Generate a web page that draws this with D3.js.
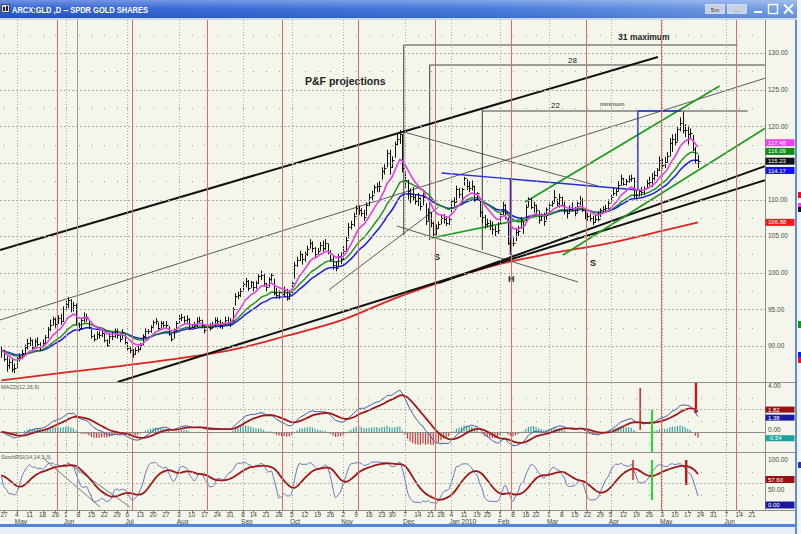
<!DOCTYPE html>
<html><head><meta charset="utf-8">
<script src="https://cdn.jsdelivr.net/npm/d3@7/dist/d3.min.js"></script>
<style>
html,body{margin:0;padding:0;background:#ffffff;overflow:hidden}
svg{display:block}
</style></head>
<body>
<svg id="chart" width="801" height="534"></svg>
<script>
// ================= DATA =================
const title = "ARCX:GLD ,D -- SPDR GOLD SHARES";
const startDate = "2009-04-24";
const axisStart = "2009-04-27", axisEnd = "2010-06-21", calendarEnd = "2010-06-30";
const holidays = ["2009-05-25","2009-07-03","2009-09-07","2009-11-26","2009-12-25","2010-01-01","2010-01-18","2010-02-15","2010-04-02","2010-05-31"];

// daily bars, one row per week
const highs = [
89.9,
89.5,88.6,88.3,88.2,87.6, 88.6,89.0,89.5,90.2,91.0, 91.2,90.9,91.0,91.2,90.5, 90.9,91.5,92.6,93.6,94.0,
93.9,94.2,94.4,95.4, 96.2,96.7,96.4,96.0,95.8, 93.2,93.8,94.6,94.4,93.6, 92.4,91.6,92.0,92.0,92.2,
91.7,90.9,91.7,91.9,92.4, 92.3,91.7,92.3,91.6, 90.5,89.9,89.6,89.8,90.0, 90.4,91.6,92.4,92.3,92.8,
93.5,93.8,93.2,93.4,93.4, 93.4,92.7,91.6,92.4,93.4, 94.2,94.4,94.1,94.2,93.8, 92.9,93.3,93.9,94.0,93.6,
92.8,93.1,93.1,93.3,93.9, 93.9,93.6,93.3,94.0,94.0, 93.8,95.3,97.2,97.4,97.9, 98.7,99.3,99.0,98.9,
98.8,98.9,99.8,100.3,99.8, 98.6,99.4,99.9,99.2,97.9, 97.6,97.6,98.1,97.8,97.5, 98.9,101.5,102.2,103.0,102.6,
102.9,103.7,104.6,104.3,103.5, 103.4,104.2,104.4,104.6,104.0, 103.1,102.3,101.6,102.6,102.8, 103.6,104.9,106.8,107.1,108.2,
109.2,109.2,108.8,108.6,109.6, 110.8,111.2,112.0,112.3,112.5, 114.4,114.8,116.8,116.8, 115.9,117.9,119.0,119.5,118.9,
113.8,112.7,111.5,111.7,110.7, 110.9,110.3,110.9,109.5,108.8, 108.3,107.0,106.6,107.0, 108.0,108.0,107.7,107.5,
110.0,110.3,111.9,111.6,111.6, 113.1,112.8,112.5,112.6,111.9, 111.0,110.1,108.5,107.9, 107.3,107.2,107.0,106.4,106.9,
108.2,109.7,109.4,107.6,104.5, 104.8,106.1,106.4,107.6,107.0, 109.3,110.3,110.2,109.7, 109.3,108.5,108.1,108.2,108.9,
109.6,109.9,111.3,110.1,110.8, 110.4,109.7,108.6,109.2,109.6, 109.0,109.7,110.5,110.2,108.8, 108.2,108.1,107.8,107.9,108.4,
108.8,109.1,109.3,110.0, 110.6,111.6,111.5,112.5,113.4, 112.9,112.8,113.3,113.4,113.0, 111.3,111.4,111.7,111.8,112.7,
113.1,113.6,113.9,114.3,115.9, 115.6,115.8,116.5,118.4,118.9, 119.0,119.9,121.2,122.0,120.3, 120.1,119.7,118.8,117.2,116.1
];
const lows = [
88.4,
87.9,86.5,86.9,86.4,86.3, 87.0,87.9,88.2,88.9,89.5, 90.0,89.5,89.8,89.9,89.3, 89.8,90.3,91.0,92.0,92.8,
92.5,93.0,92.9,93.3, 94.9,95.2,94.6,94.7,92.9, 92.0,92.3,93.2,93.3,92.3, 91.0,90.6,90.9,91.0,91.2,
90.5,89.9,90.3,90.8,91.1, 91.0,90.5,91.0,90.2, 89.3,89.0,88.4,88.8,89.1, 89.4,90.1,91.1,91.6,91.8,
92.6,92.9,92.2,92.4,92.5, 92.3,91.4,90.6,91.0,92.0, 93.0,93.4,93.1,93.2,92.2, 92.2,92.4,92.6,93.1,92.5,
91.7,92.1,92.1,92.4,92.6, 92.9,92.4,92.3,92.8,92.9, 92.6,93.3,95.5,96.4,96.7, 97.6,98.0,97.5,97.9,
97.4,97.8,98.5,99.0,98.1, 97.5,98.0,98.8,96.9,96.5, 96.4,96.2,96.8,96.2,96.3, 97.2,99.2,100.8,101.6,101.1,
101.5,102.3,103.3,102.8,102.1, 102.3,103.0,102.9,103.1,102.5, 101.5,100.4,100.2,100.9,101.2, 101.6,102.8,104.7,105.9,106.3,
107.9,107.9,107.7,107.1,107.8, 109.1,109.8,110.8,111.0,111.0, 112.7,113.4,114.4,113.4, 114.3,115.7,117.4,117.6,113.7,
111.6,110.0,109.5,109.8,109.3, 109.1,108.5,109.2,106.5,107.1, 106.2,104.8,105.1,106.0, 106.6,106.7,106.4,106.5,
108.0,109.1,109.6,110.2,109.6, 111.9,111.3,111.0,111.2,109.7, 109.8,107.6,106.8,106.0, 106.2,105.8,105.2,105.0,105.3,
106.5,107.9,107.3,103.8,103.0, 103.6,104.3,105.0,106.0,105.3, 106.9,109.0,108.7,108.2, 108.0,106.7,107.1,106.4,107.2,
108.3,109.0,109.6,108.9,108.9, 109.0,108.0,107.4,108.1,108.4, 107.7,108.2,109.2,108.3,107.3, 107.1,107.0,106.5,106.8,107.0,
107.6,108.2,108.3,108.6, 109.6,110.5,110.5,111.1,111.9, 111.9,111.9,112.3,112.4,110.2, 110.0,110.4,110.5,110.6,111.5,
111.9,111.7,112.6,113.1,113.9, 114.2,114.3,115.0,115.9,116.5, 117.4,117.9,119.3,119.0,118.5, 117.5,118.3,116.6,114.9,114.3
];
const closes = [
89.4,
88.2,87.4,87.8,86.9,87.0, 88.3,88.5,89.1,89.8,90.4, 90.8,89.9,90.7,90.3,90.0, 90.4,91.2,92.3,92.9,93.7,
93.0,93.8,93.4,95.1, 95.7,96.3,95.0,95.6,93.2, 92.4,93.6,94.0,93.9,92.6, 91.4,91.0,91.6,91.5,91.8,
90.8,90.2,91.4,91.3,92.1, 91.5,90.9,91.9,90.6, 89.7,89.4,88.9,89.5,89.6, 90.2,91.3,92.1,92.0,92.6,
93.3,93.4,92.5,93.1,92.9, 92.9,91.6,91.0,92.2,93.1, 93.8,94.0,93.5,93.7,92.5, 92.6,92.9,93.4,93.6,92.8,
92.2,92.8,92.5,92.9,93.5, 93.4,92.8,93.0,93.6,93.2, 93.4,95.1,96.8,97.0,97.5, 98.4,98.9,97.9,98.7,
98.0,98.6,99.5,99.7,98.6, 98.0,99.2,99.7,97.2,97.0, 97.4,97.1,97.6,96.6,97.1, 98.6,101.0,101.8,102.6,101.9,
102.6,103.3,104.1,103.4,102.6, 103.0,103.8,103.4,104.0,102.9, 101.9,101.0,100.7,102.3,101.9, 103.0,104.5,106.2,106.6,107.7,
108.8,108.6,108.2,107.6,109.3, 110.3,110.6,111.7,111.8,111.9, 113.9,114.3,116.4,114.4, 115.4,117.6,118.3,118.9,114.3,
112.6,111.1,110.5,110.4,109.8, 110.2,109.1,110.4,107.0,108.3, 106.8,105.3,106.1,106.7, 107.5,107.4,106.8,107.3,
109.8,109.7,111.5,110.8,111.4, 112.9,111.8,111.6,111.8,110.0, 110.9,108.3,107.6,106.7, 106.8,106.5,106.0,105.7,105.9,
108.0,109.2,108.2,104.0,104.0, 104.0,105.6,105.7,107.2,106.5, 109.0,110.1,109.0,109.2, 108.5,107.2,107.9,107.1,108.7,
109.3,109.5,110.3,109.5,110.3, 109.2,108.6,108.1,108.7,108.8, 108.2,109.5,110.0,108.5,107.7, 107.8,107.5,106.9,107.3,107.4,
108.6,108.7,108.9,109.5, 110.4,110.9,111.2,112.0,113.0, 112.1,112.5,112.8,112.9,110.6, 110.6,111.1,111.0,111.5,112.3,
112.4,113.0,113.3,114.0,115.4, 114.7,115.1,116.0,117.7,118.2, 117.8,119.6,120.5,119.5,119.5, 119.0,119.1,116.9,115.4,115.23
];

// 200-day average
const ma200Dates  = ["2009-04-24","2009-06-01","2009-07-01","2009-08-03","2009-09-01","2009-10-01","2009-11-02","2009-12-01","2010-01-04","2010-02-01","2010-03-01","2010-04-01","2010-05-03","2010-05-21"];
const ma200Values = [85.3, 86.4, 87.3, 88.3, 89.5, 91.4, 93.6, 96.5, 99.2, 101.2, 102.6, 104.0, 105.7, 106.88];

const priceTicks = [90,95,100,105,110,115,120,125,130];
const priceLastLabels = ["117.48","116.09","115.23","114.17","106.88"];
const macdTickLabels = ["4.00","0.00"];
const macdLastLabels = ["1.82","1.38","-0.54"];
const stochTickLabels = ["100.00","50.00"];
const stochLastLabels = ["57.60","0.00"];

// drawn studies, in [bar index, price] units (bar 0 = 2009-04-24)
const cycleBars = [21.6,50.8,80,109.2,138.6,168.5,198.1,227.4,256.7,285.9];
const markerBars = [29.4];
const thickLines = [[-0.55,103.11,255.4,129.45],[45.2,85.09,297,112.63],[170.1,98.6,297,114.55]];
const thinLines  = [[-0.55,93.55,297,126.55],[153.8,106.38,224.3,98.74],[156.5,119.22,232.1,111.84],[127.4,97.65,170.1,108.98]];
const greenLines = [[203.8,109.66,279.4,125.5],[218.5,102.42,297,119.69],[167.3,104.74,214.6,108.16]];
const blueLines  = [[171.2,113.62,247.6,111.3],[198,112.94,198,102.42],[247.6,122.08,247.6,111.3],[247.6,122.08,264.3,122.08]];
const pfVerticals   = [[156.5,131.09,105.15],[166.6,128.36,104.47],[187.1,122.22,103.11]];
const pfHorizontals = [[156.5,286.4,131.09],[166.6,297,128.36],[187.1,290.3,122.08]];
const notes = [
  {t:"P&F projections", i:118.1, p:125.63, k:"big"},
  {t:"31 maximum", i:239.9, p:131.77, k:"mid"},
  {t:"28", i:220.4, p:128.63, k:"num"},
  {t:"22", i:213.8, p:122.5, k:"num"},
  {t:"minimum", i:232.9, p:122.76, k:"small"},
  {t:"S", i:168.3, p:101.74, k:"let"},
  {t:"H", i:197.1, p:98.74, k:"let"},
  {t:"S", i:229.0, p:100.92, k:"let"}
];
const macdMarkBars = [248.5,253.1,270.2], macdMarkFrom = [3.83,1.91,4.26], macdMarkTo = [0.17,-1.74,1.65];
const stochMarkBars = [245.7,253.1,266.4], stochMarkFrom = [100,100,100], stochMarkTo = [56.5,13,45.7];
const stochLines = [[16.2,104.3,38.4,-2.2],[25.9,93.5,50,-2.2]];

// ================= DRAW =================
const svg = d3.select("#chart");
const FONT = '"Liberation Sans", Arial, sans-serif';
const fmt = d3.utcFormat("%Y-%m-%d"), parse = d3.utcParse("%Y-%m-%d");
const hol = new Set(holidays);
const n = Math.min(highs.length, lows.length, closes.length);
const days = [];
for (let d = parse(startDate); d <= parse(calendarEnd); d = d3.utcDay.offset(d, 1)) {
  const wd = d.getUTCDay();
  if (wd === 0 || wd === 6) continue;
  if (days.length < n && hol.has(fmt(d))) continue;
  days.push(d);
}
const idxOf = s => { const t = parse(s); const k = days.findIndex(d => d >= t); return k < 0 ? days.length - 1 : k; };
const i0 = idxOf(axisStart), i1 = idxOf(axisEnd);
const PR = 765, MT = 20, MB = 382, M2T = 383, M2B = 452, S3T = 453, S3B = 510;
const x = d3.scaleLinear().domain([i0, i1]).range([4, 752]);
const y = d3.scaleLinear().domain([90, 130]).range([346, 53]);
const yM = d3.scaleLinear().domain([0, 4]).range([432, 386]);
const yS = d3.scaleLinear().domain([0, 100]).range([506, 460]);

// indicators
function ema(a, p) { const k = 2 / (p + 1); const o = []; let e = a[0]; a.forEach((v, i) => { e = i === 0 ? v : v * k + e * (1 - k); o.push(e); }); return o; }
function sma(a, p) { return a.map((v, i) => d3.mean(a.slice(Math.max(0, i - p + 1), i + 1))); }
const C = closes.slice(0, n);
const pink = ema(C, 10), green = ema(C, 21), blue = ema(C, 30);
const e12 = ema(C, 12), e26 = ema(C, 26);
const macd = e12.map((v, i) => v - e26[i]);
const signal = ema(macd, 9);
const hist = macd.map((v, i) => v - signal[i]);
const rawK = C.map((c, i) => {
  const hh = d3.max(highs.slice(Math.max(0, i - 13), i + 1)), ll = d3.min(lows.slice(Math.max(0, i - 13), i + 1));
  return hh - ll < 1e-9 ? 50 : (c - ll) / (hh - ll) * 100;
});
const kLine = sma(rawK, 3);
const dLine = ema(ema(kLine, 6), 6);

// background
svg.append("rect").attr("width", 801).attr("height", 534).attr("fill", "#f4f6ec");
const defs = svg.append("defs");
[["cpMain", MT, MB], ["cpMacd", M2T, M2B], ["cpStoch", S3T, S3B]].forEach(([id, t, b]) => {
  defs.append("clipPath").attr("id", id).append("rect").attr("x", 0).attr("y", t).attr("width", PR).attr("height", b - t);
});
const tb = defs.append("linearGradient").attr("id", "tb").attr("x1", 0).attr("x2", 1).attr("y1", 0).attr("y2", 0);
tb.append("stop").attr("offset", 0).attr("stop-color", "#2457cf");
tb.append("stop").attr("offset", 0.6).attr("stop-color", "#3b73da");
tb.append("stop").attr("offset", 1).attr("stop-color", "#6f9ae4");
const tg = defs.append("linearGradient").attr("id", "tg").attr("x1", 0).attr("x2", 0).attr("y1", 0).attr("y2", 1);
tg.append("stop").attr("offset", 0).attr("stop-color", "#ffffff").attr("stop-opacity", 0.35);
tg.append("stop").attr("offset", 0.5).attr("stop-color", "#ffffff").attr("stop-opacity", 0.05);
tg.append("stop").attr("offset", 1).attr("stop-color", "#000000").attr("stop-opacity", 0.08);

const gMain = svg.append("g").attr("clip-path", "url(#cpMain)");
const gMacd = svg.append("g").attr("clip-path", "url(#cpMacd)");
const gStoch = svg.append("g").attr("clip-path", "url(#cpStoch)");

// weekly ticks / month starts
const ticks = [];
for (let i = 1; i < days.length; i++) {
  if (+d3.utcMonday.floor(days[i]) !== +d3.utcMonday.floor(days[i - 1])) ticks.push(i);
}
const monthTicks = ticks.filter((t, k) => k > 0 && days[t].getUTCMonth() !== days[ticks[k - 1]].getUTCMonth());
const wkX = ticks.map(t => x(t)).filter(v => v <= PR);

// grid
const grid = svg.append("g");
monthTicks.forEach(t => {
  const xx = Math.round(x(t)) + 0.5; if (xx > PR) return;
  grid.append("line").attr("x1", xx).attr("x2", xx).attr("y1", MT).attr("y2", S3B).attr("stroke", "#a9aba4").attr("stroke-dasharray", "1,2");
});
priceTicks.forEach(v => {
  const yy = Math.round(y(v)) + 0.5;
  grid.append("line").attr("x1", 0).attr("x2", PR).attr("y1", yy).attr("y2", yy).attr("stroke", "#a9aba4").attr("stroke-dasharray", "2,2");
  const ym = Math.round(y(v + 2.5));
  if (ym > MT) wkX.forEach(xx => grid.append("rect").attr("x", Math.round(xx)).attr("y", ym).attr("width", 1).attr("height", 1).attr("fill", "#9a9c96"));
});
[2].forEach(v => { const yy = Math.round(yM(v)) + 0.5; grid.append("line").attr("x1", 0).attr("x2", PR).attr("y1", yy).attr("y2", yy).attr("stroke", "#b0b2ab").attr("stroke-dasharray", "2,2"); });
[1, 3, -1].forEach(v => { const yy = Math.round(yM(v)); wkX.forEach(xx => grid.append("rect").attr("x", Math.round(xx)).attr("y", yy).attr("width", 1).attr("height", 1).attr("fill", "#9a9c96")); });
[50].forEach(v => { const yy = Math.round(yS(v)) + 0.5; grid.append("line").attr("x1", 0).attr("x2", PR).attr("y1", yy).attr("y2", yy).attr("stroke", "#b0b2ab").attr("stroke-dasharray", "2,2"); });
[25, 75].forEach(v => { const yy = Math.round(yS(v)); wkX.forEach(xx => grid.append("rect").attr("x", Math.round(xx)).attr("y", yy).attr("width", 1).attr("height", 1).attr("fill", "#9a9c96")); });
markerBars.forEach(b => { const xx = Math.round(x(b)) + 0.5; grid.append("line").attr("x1", xx).attr("x2", xx).attr("y1", MT).attr("y2", S3B).attr("stroke", "#9c9e98").attr("stroke-width", 1); });

// cycle lines through all panels
cycleBars.forEach(b => { const xx = Math.round(x(b)) + 0.5; svg.append("line").attr("x1", xx).attr("x2", xx).attr("y1", MT).attr("y2", S3B).attr("stroke", "#e46a6a").attr("stroke-width", 1); });

// ---- main panel ----
const seg = (g, arr, col, w, dash) => arr.forEach(a => g.append("line").attr("x1", x(a[0])).attr("y1", y(a[1])).attr("x2", x(a[2])).attr("y2", y(a[3])).attr("stroke", col).attr("stroke-width", w).attr("stroke-dasharray", dash || null));
pfVerticals.forEach(a => gMain.append("line").attr("x1", x(a[0])).attr("x2", x(a[0])).attr("y1", y(a[1])).attr("y2", y(a[2])).attr("stroke", "#555").attr("stroke-width", 1.2));
pfHorizontals.forEach(a => gMain.append("line").attr("x1", x(a[0])).attr("x2", x(a[1])).attr("y1", y(a[2])).attr("y2", y(a[2])).attr("stroke", "#444").attr("stroke-width", 1));

const ma200 = ma200Dates.map((d, k) => [idxOf(d), ma200Values[k]]);
gMain.append("path").attr("d", d3.line().x(d => x(d[0])).y(d => y(d[1])).curve(d3.curveMonotoneX)(ma200)).attr("fill", "none").attr("stroke", "#e02222").attr("stroke-width", 1.8);

const maLine = arr => d3.line().x((d, i) => x(i)).y(d => y(d)).curve(d3.curveLinear)(arr);
gMain.append("path").attr("d", maLine(blue)).attr("fill", "none").attr("stroke", "#1b1be8").attr("stroke-width", 1.5);
gMain.append("path").attr("d", maLine(green)).attr("fill", "none").attr("stroke", "#1f8a1f").attr("stroke-width", 1.4);

seg(gMain, thinLines, "#4a4a4a", 0.9);
seg(gMain, thickLines, "#111", 2);
seg(gMain, greenLines, "#1c9a1c", 1.6);
seg(gMain, blueLines, "#2430d0", 1.4);

// bars
const bars = gMain.append("g");
for (let i = 0; i < n; i++) {
  const xx = Math.round(x(i)) + 0.5;
  bars.append("line").attr("x1", xx).attr("x2", xx).attr("y1", y(highs[i])).attr("y2", y(lows[i])).attr("stroke", "#111").attr("stroke-width", 1);
  bars.append("line").attr("x1", xx).attr("x2", xx + 2).attr("y1", Math.round(y(closes[i])) + 0.5).attr("y2", Math.round(y(closes[i])) + 0.5).attr("stroke", "#111").attr("stroke-width", 1);
}
gMain.append("path").attr("d", maLine(pink)).attr("fill", "none").attr("stroke", "#e040e0").attr("stroke-width", 1.6);

// annotations
notes.forEach(o => {
  const st = {big: [10.5, "bold"], mid: [8.5, "bold"], num: [8, "normal"], small: [6, "normal"], let: [9, "bold"]}[o.k];
  gMain.append("text").attr("x", x(o.i)).attr("y", y(o.p)).text(o.t).attr("font-family", FONT).attr("font-size", st[0]).attr("font-weight", st[1]).attr("fill", "#222");
});

// ---- MACD panel ----
for (let i = 0; i < n; i++) {
  const v = hist[i];
  gMacd.append("rect").attr("x", x(i) - 0.6).attr("width", 1.2).attr("y", Math.min(yM(v), yM(0))).attr("height", Math.abs(yM(v) - yM(0))).attr("fill", v >= 0 ? "#37a49e" : "#c83a3a");
}
gMacd.append("line").attr("x1", 0).attr("x2", PR).attr("y1", yM(0) + 0.5).attr("y2", yM(0) + 0.5).attr("stroke", "#8a8c86");
const mLine = (arr, sc) => d3.line().x((d, i) => x(i)).y(d => sc(d))(arr);
gMacd.append("path").attr("d", mLine(macd, yM)).attr("fill", "none").attr("stroke", "#4a5aa8").attr("stroke-width", 1);
gMacd.append("path").attr("d", mLine(signal, yM)).attr("fill", "none").attr("stroke", "#9e1a1a").attr("stroke-width", 1.8);
const mkCols = ["#e02a2a", "#22dd22", "#c41818"], mkW = [1.6, 2, 2.4];
macdMarkBars.forEach((b, k) => gMacd.append("line").attr("x1", x(b)).attr("x2", x(b)).attr("y1", yM(macdMarkFrom[k])).attr("y2", yM(macdMarkTo[k])).attr("stroke", mkCols[k]).attr("stroke-width", mkW[k]));

// ---- Stoch panel ----
stochLines.forEach(a => gStoch.append("line").attr("x1", x(a[0])).attr("y1", yS(a[1])).attr("x2", x(a[2])).attr("y2", yS(a[3])).attr("stroke", "#555").attr("stroke-width", 0.8));
gStoch.append("path").attr("d", d3.line().x((d, i) => x(i)).y(d => yS(d)).curve(d3.curveMonotoneX)(kLine)).attr("fill", "none").attr("stroke", "#6674b8").attr("stroke-width", 1);
gStoch.append("path").attr("d", d3.line().x((d, i) => x(i)).y(d => yS(d)).curve(d3.curveBasis)(dLine)).attr("fill", "none").attr("stroke", "#9e1a1a").attr("stroke-width", 1.8);
stochMarkBars.forEach((b, k) => gStoch.append("line").attr("x1", x(b)).attr("x2", x(b)).attr("y1", yS(stochMarkFrom[k])).attr("y2", yS(stochMarkTo[k])).attr("stroke", mkCols[k]).attr("stroke-width", mkW[k]));

// panel labels
svg.append("text").attr("x", 1).attr("y", 389).text("MACD(12,26,9)").attr("font-family", FONT).attr("font-size", 5.5).attr("fill", "#555");
svg.append("text").attr("x", 1).attr("y", 459).text("StochRSI(14,14,3,3)").attr("font-family", FONT).attr("font-size", 5.5).attr("fill", "#555");

// separators
[MB + 0.5, M2B + 0.5, S3B + 0.5].forEach(v => svg.append("line").attr("x1", 0).attr("x2", 795).attr("y1", v).attr("y2", v).attr("stroke", "#8e908a").attr("stroke-width", 1));
svg.append("line").attr("x1", PR + 0.5).attr("x2", PR + 0.5).attr("y1", MT).attr("y2", S3B).attr("stroke", "#8e908a");

// right axis labels (a tick label hidden under a value box in the reference is not drawn)
const boxCenters = priceLastLabels.map(t => y(+t));
const axT = (yy, t) => svg.append("text").attr("x", 768).attr("y", yy + 2.3).text(t).attr("font-family", FONT).attr("font-size", 6.5).attr("fill", "#4a4a4a");
priceTicks.forEach(v => { if (boxCenters.every(c => Math.abs(c - y(v)) > 5)) axT(y(v), v.toFixed(2)); });
axT(yM(+macdTickLabels[0]), macdTickLabels[0]);
axT(yM(+macdTickLabels[1]) - 2, macdTickLabels[1]);
axT(yS(+stochTickLabels[0]), stochTickLabels[0]);
axT(yS(+stochTickLabels[1]) + 7, stochTickLabels[1]);
const boxLab = (yy, t, col, h) => {
  h = h || 7;
  svg.append("rect").attr("x", 765.5).attr("y", yy - h / 2).attr("width", 29).attr("height", h).attr("fill", col);
  svg.append("text").attr("x", 768).attr("y", yy + 2.1).text(t).attr("font-family", FONT).attr("font-size", 6).attr("fill", "#fff");
};
const priceCols = ["#f040f0", "#108a10", "#111111", "#1010f0", "#f01818"];
const priceNudge = [-2, -3.5, 0, 1.5, 0];
priceLastLabels.forEach((t, k) => boxLab(y(+t) + priceNudge[k], t, priceCols[k]));
const macdCols = ["#9a1010", "#1a1aa0", "#1aa0a0"];
const macdNudge = [-1.5, 1.5, 0];
macdLastLabels.forEach((t, k) => boxLab(yM(+t) + macdNudge[k], t, macdCols[k], 6));
const stochCols = ["#9a1010", "#1a1aa0"];
stochLastLabels.forEach((t, k) => boxLab(Math.min(yS(+t), 505), t, stochCols[k]));

// x axis
const xa = svg.append("g");
ticks.forEach(t => {
  const xx = x(t); if (xx > PR - 3) return;
  xa.append("line").attr("x1", Math.round(xx) + 0.5).attr("x2", Math.round(xx) + 0.5).attr("y1", S3B).attr("y2", S3B + 3).attr("stroke", "#777");
  xa.append("text").attr("x", xx).attr("y", 517).attr("text-anchor", "middle").text(days[t].getUTCDate()).attr("font-family", FONT).attr("font-size", 6.5).attr("fill", "#444");
});
monthTicks.forEach(t => {
  const xx = x(t); if (xx > PR) return;
  const d = days[t];
  const lab = d.getUTCMonth() === 0 ? d3.utcFormat("%b %Y")(d) : d3.utcFormat("%b")(d);
  xa.append("text").attr("x", xx - 2).attr("y", 523.5).text(lab).attr("font-family", FONT).attr("font-size", 6.5).attr("fill", "#444");
});

// window chrome
svg.append("rect").attr("x", 0).attr("y", 524).attr("width", 801).attr("height", 3).attr("fill", "#4f86dc");
svg.append("rect").attr("x", 0).attr("y", 527).attr("width", 801).attr("height", 7).attr("fill", "#e8eef7");
svg.append("rect").attr("x", 795).attr("y", 0).attr("width", 2).attr("height", 534).attr("fill", "#5b8ddc");
svg.append("rect").attr("x", 797).attr("y", 0).attr("width", 4).attr("height", 534).attr("fill", "#f2f5f8");
[[192, 6, "#e8141a"], [203, 4, "#f040f0"], [207, 5, "#111"], [321, 7, "#129a12"], [352, 5, "#1a1af0"], [357, 6, "#e81818"], [462, 6, "#3030b0"]].forEach(a =>
  svg.append("rect").attr("x", 798).attr("y", a[0]).attr("width", 3).attr("height", a[1]).attr("fill", a[2]));
svg.append("rect").attr("x", 0).attr("y", 0).attr("width", 797).attr("height", 18).attr("fill", "url(#tb)");
svg.append("rect").attr("x", 0).attr("y", 0).attr("width", 797).attr("height", 18).attr("fill", "url(#tg)");
svg.append("rect").attr("x", 0).attr("y", 18).attr("width", 797).attr("height", 2).attr("fill", "#c9d8ef");
svg.append("rect").attr("x", 1.5).attr("y", 4.5).attr("width", 8).attr("height", 8).attr("fill", "#d8dce4").attr("stroke", "#333").attr("stroke-width", 0.8);
svg.append("rect").attr("x", 3).attr("y", 7).attr("width", 2).attr("height", 4).attr("fill", "#222");
svg.append("rect").attr("x", 6).attr("y", 6).attr("width", 2).attr("height", 5).attr("fill", "#222");
svg.append("text").attr("x", 12).attr("y", 13).text(title).attr("font-family", FONT).attr("font-size", 9).attr("font-weight", "bold").attr("fill", "#fff").attr("textLength", 136).attr("lengthAdjust", "spacingAndGlyphs");
[[705, "5m"], [727, "..."]].forEach(a => {
  svg.append("rect").attr("x", a[0] + 0.5).attr("y", 4.5).attr("width", 19).attr("height", 9).attr("fill", "#c8d2e0").attr("stroke", "#eef").attr("stroke-width", 0.6);
  svg.append("text").attr("x", a[0] + 10).attr("y", 11.5).attr("text-anchor", "middle").text(a[1]).attr("font-family", FONT).attr("font-size", 6).attr("fill", "#333");
});
svg.append("rect").attr("x", 754).attr("y", 11).attr("width", 8).attr("height", 2).attr("fill", "#fff");
svg.append("rect").attr("x", 768.5).attr("y", 4.5).attr("width", 9).attr("height", 9).attr("fill", "none").attr("stroke", "#fff").attr("stroke-width", 1.4);
svg.append("path").attr("d", "M784,4.5 L793,13.5 M793,4.5 L784,13.5").attr("stroke", "#fff").attr("stroke-width", 1.8);
</script>
</body></html>
